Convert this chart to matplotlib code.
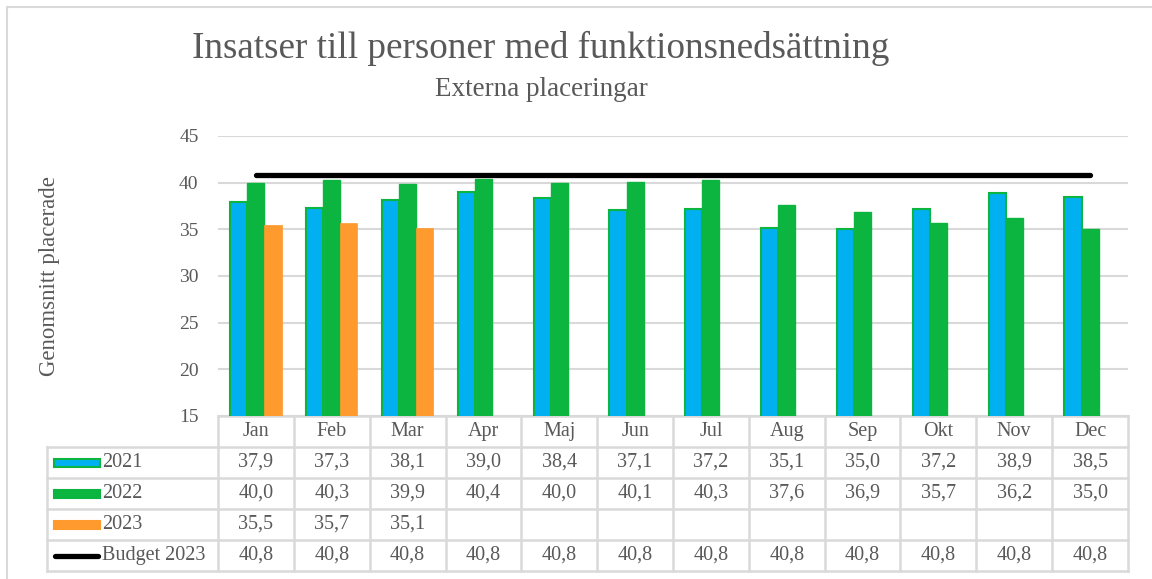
import matplotlib
matplotlib.use("Agg")
import matplotlib.pyplot as plt
import numpy as np
from matplotlib.patches import Rectangle
from matplotlib.lines import Line2D
from matplotlib.transforms import blended_transform_factory

months = ["Jan", "Feb", "Mar", "Apr", "Maj", "Jun", "Jul", "Aug", "Sep", "Okt", "Nov", "Dec"]
v2021 = [37.9, 37.3, 38.1, 39.0, 38.4, 37.1, 37.2, 35.1, 35.0, 37.2, 38.9, 38.5]
v2022 = [40.0, 40.3, 39.9, 40.4, 40.0, 40.1, 40.3, 37.6, 36.9, 35.7, 36.2, 35.0]
v2023 = [35.5, 35.7, 35.1]
budget = [40.8] * 12
series_names = ["2021", "2022", "2023", "Budget 2023"]

title = "Insatser till personer med funktionsnedsättning"
subtitle = "Externa placeringar"
ylabel = "Genomsnitt placerade"

plt.rcParams['font.family'] = ['Liberation Serif', 'DejaVu Serif']
TXT = "#595959"
GRID = "#D9D9D9"
C_BLUE = "#00B0F0"
C_GREEN = "#0BB53F"
C_ORANGE = "#FF9A2E"

W, H = 1152, 579
fig = plt.figure(figsize=(W / 100, H / 100), dpi=100)

ax_l, ax_r, ax_t, ax_b = 218, 1128, 136, 416
ax = fig.add_axes([ax_l / W, 1 - ax_b / H, (ax_r - ax_l) / W, (ax_b - ax_t) / H])

x = np.arange(len(months))
bw = 0.225
ax.bar(x - bw, v2021, bw, color=C_BLUE, edgecolor=C_GREEN, linewidth=1.5, zorder=3)
ax.bar(x, v2022, bw, color=C_GREEN, edgecolor=C_GREEN, linewidth=1.0, zorder=3)
ax.bar(x[:len(v2023)] + bw, v2023, bw, color=C_ORANGE, edgecolor=C_ORANGE, linewidth=0.5, zorder=3)
ax.plot(x, budget, color="black", linewidth=3.8, solid_capstyle="round", zorder=4)

ax.set_xlim(-0.5, len(months) - 0.5)
ax.set_ylim(15, 45)
ax.set_yticks(range(15, 46, 5))
ax.yaxis.grid(True, color=GRID, linewidth=1.5, zorder=0)
ax.set_xticks([])
for s in ax.spines.values():
    s.set_visible(False)
ax.tick_params(axis='y', length=0, pad=14, labelsize=14, labelcolor=TXT)

# Titles
fig.text(541 / W, 1 - 48 / H, title, ha="center", va="center", fontsize=26.7, color=TXT)
fig.text(541 / W, 1 - 89 / H, subtitle, ha="center", va="center", fontsize=19.5, color=TXT)
fig.text(50 / W, 1 - 276 / H, ylabel, ha="center", va="center", rotation=90, fontsize=16.5, color=TXT)

# Data table below axes
tr = blended_transform_factory(ax.transData, ax.transAxes)
axh = ax_b - ax_t
rowh = 31 / axh
nrows = 4
lw = 1.8
bottom_y = -rowh * (nrows + 1)
colw = (ax_r - ax_l) / len(months)


def px2x(px):
    return -0.5 + (px - ax_l) / colw


left_lab = px2x(47)
FS = 14.5

# horizontal lines
ax.add_line(Line2D([-0.5, 11.5], [0, 0], transform=tr, color=GRID, lw=lw, clip_on=False))
for i in range(1, nrows + 2):
    ax.add_line(Line2D([left_lab, 11.5], [-rowh * i, -rowh * i], transform=tr,
                       color=GRID, lw=lw, clip_on=False))
# vertical lines
for k in range(len(months) + 1):
    xv = k - 0.5
    ax.add_line(Line2D([xv, xv], [0, bottom_y], transform=tr, color=GRID, lw=lw, clip_on=False))
ax.add_line(Line2D([left_lab, left_lab], [-rowh, bottom_y], transform=tr, color=GRID, lw=lw, clip_on=False))

# header
for i, m in enumerate(months):
    ax.text(i, -rowh * 0.5, m, transform=tr, ha="center", va="center", fontsize=FS, color=TXT)

rows = [v2021, v2022, v2023, budget]
for r, vals in enumerate(rows):
    yc = -rowh * (r + 1.5)
    for i, v in enumerate(vals):
        ax.text(i, yc, f"{v:.1f}".replace(".", ","), transform=tr, ha="center", va="center",
                fontsize=FS, color=TXT)

# row labels with legend keys
key_x0, key_x1 = px2x(54), px2x(100)
kh = 8 / axh
styles = [(C_BLUE, C_GREEN), (C_GREEN, C_GREEN), (C_ORANGE, C_ORANGE)]
for r, name in enumerate(series_names):
    yc = -rowh * (r + 1.5)
    if r < 3:
        fc, ec = styles[r]
        ax.add_patch(Rectangle((key_x0, yc - kh / 2), key_x1 - key_x0, kh, transform=tr,
                               facecolor=fc, edgecolor=ec, lw=1.5, clip_on=False))
    else:
        ax.add_line(Line2D([px2x(55), px2x(98)], [yc, yc], transform=tr, color="black",
                           lw=3.8, solid_capstyle="round", clip_on=False))
    ax.text(px2x(102), yc, name, transform=tr, ha="left", va="center", fontsize=FS, color=TXT)

# outer chart border
fig.patches.append(Rectangle((7 / W, -0.05), 1.2, 1 - 7 / H + 0.05, transform=fig.transFigure,
                             fill=False, edgecolor=GRID, lw=1.5))

fig.savefig("out.png", dpi=100)
